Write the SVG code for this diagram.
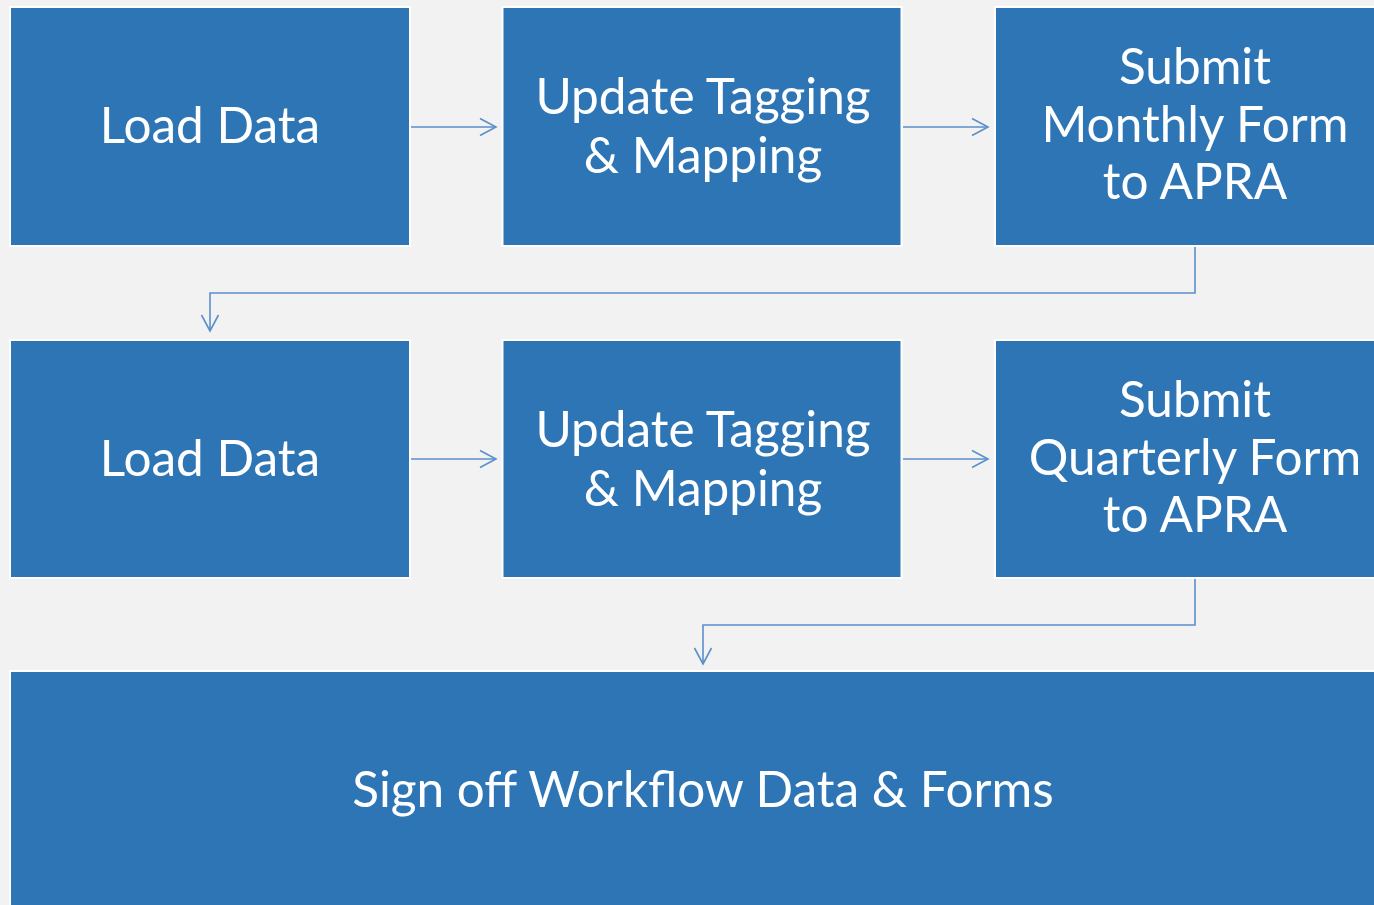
<svg xmlns="http://www.w3.org/2000/svg" width="1374" height="905" viewBox="0 0 1374 905">
<defs>
<style>
.box{fill:#2E75B6;stroke:#FFFFFF;stroke-width:2}
.lbl{font-family:"Lato","Open Sans",sans-serif;font-size:49.5px;fill:#FFFFFF;text-anchor:middle}
.con{fill:none;stroke:#5B8FCB;stroke-width:1.6}
</style>
<marker id="arr" viewBox="0 0 20 20" refX="18" refY="10" markerWidth="20" markerHeight="20" markerUnits="userSpaceOnUse" orient="auto">
<path d="M2,1.5 L18,10 L2,18.5" fill="none" stroke="#5B8FCB" stroke-width="1.6"/>
</marker>
</defs>
<rect width="1374" height="905" fill="#F2F2F2"/>
<g id="connectors">
<line class="con" x1="411" y1="127" x2="496" y2="127" marker-end="url(#arr)"/>
<line class="con" x1="903" y1="127" x2="988" y2="127" marker-end="url(#arr)"/>
<polyline class="con" points="1195,247 1195,293 210,293 210,331" marker-end="url(#arr)"/>
<line class="con" x1="411" y1="459" x2="496" y2="459" marker-end="url(#arr)"/>
<line class="con" x1="903" y1="459" x2="988" y2="459" marker-end="url(#arr)"/>
<polyline class="con" points="1195,579 1195,625 703,625 703,664" marker-end="url(#arr)"/>
</g>
<g id="n1"><rect class="box" x="10" y="7" width="400" height="239"/><text class="lbl" x="210" y="143">Load Data</text></g>
<g id="n2"><rect class="box" x="502.5" y="7" width="399" height="239"/><text class="lbl" x="703" y="114">Update Tagging</text><text class="lbl" x="703" y="173">&amp; Mapping</text></g>
<g id="n3"><rect class="box" x="995" y="7" width="400" height="239"/><text class="lbl" x="1195" y="84">Submit</text><text class="lbl" x="1195" y="142">Monthly Form</text><text class="lbl" x="1195" y="199">to APRA</text></g>
<g id="n4"><rect class="box" x="10" y="340" width="400" height="238"/><text class="lbl" x="210" y="476">Load Data</text></g>
<g id="n5"><rect class="box" x="502.5" y="340" width="399" height="238"/><text class="lbl" x="703" y="447">Update Tagging</text><text class="lbl" x="703" y="506">&amp; Mapping</text></g>
<g id="n6"><rect class="box" x="995" y="340" width="400" height="238"/><text class="lbl" x="1195" y="417">Submit</text><text class="lbl" x="1195" y="475">Quarterly Form</text><text class="lbl" x="1195" y="532">to APRA</text></g>
<g id="n7"><rect class="box" x="10" y="671" width="1390" height="260"/><text class="lbl" x="703" y="807">Sign off Workflow Data &amp; Forms</text></g>
</svg>
